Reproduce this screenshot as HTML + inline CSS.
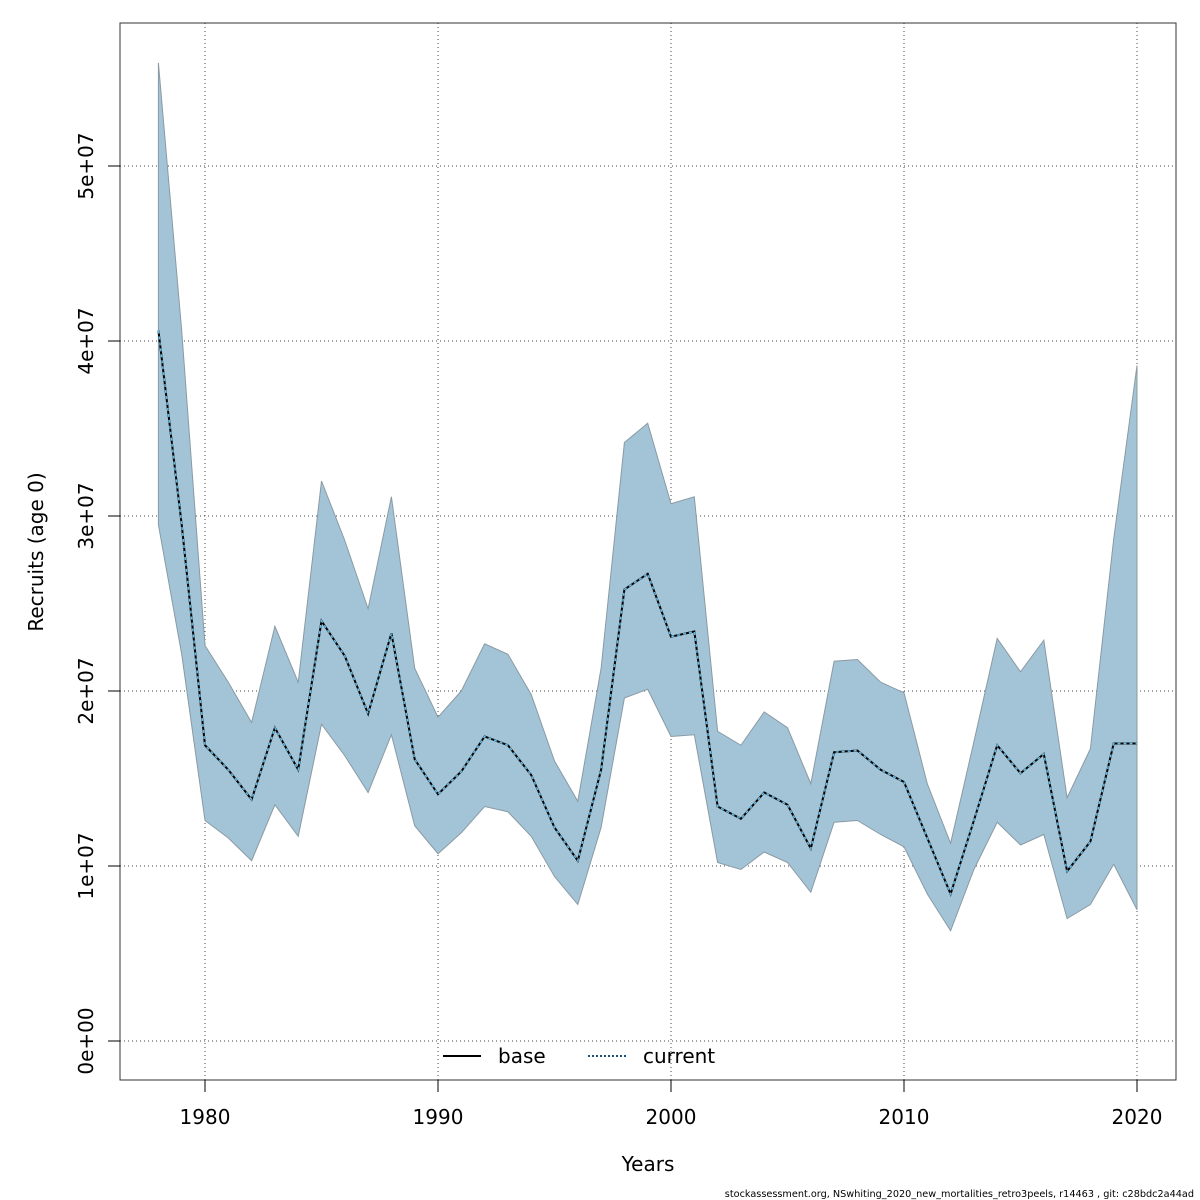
<!DOCTYPE html>
<html><head><meta charset="utf-8"><style>
body{margin:0;background:#fff}
svg{display:block;font-family:"DejaVu Sans","Liberation Sans",sans-serif}
</style></head><body>
<svg id="chart" width="1200" height="1200"></svg>
<script>
const years=[];for(let y=1978;y<=2020;y++)years.push(y);
const meanVals=[40.6,29.5,16.9,15.5,13.8,17.9,15.5,24.0,22.0,18.7,23.3,16.1,14.1,15.4,17.4,16.9,15.2,12.2,10.3,15.5,25.8,26.7,23.1,23.4,13.4,12.7,14.2,13.5,11.0,16.5,16.6,15.5,14.8,11.6,8.4,12.6,16.9,15.3,16.4,9.7,11.4,17.0,17.0];
const upperVals=[55.9,40.6,22.6,20.5,18.2,23.7,20.5,32.0,28.6,24.7,31.1,21.3,18.5,20.0,22.7,22.1,19.8,16.0,13.7,21.3,34.2,35.3,30.7,31.1,17.7,16.9,18.8,17.9,14.7,21.7,21.8,20.5,19.9,14.7,11.3,17.1,23.0,21.1,22.9,13.9,16.7,28.7,38.6];
const lowerVals=[29.5,22.1,12.6,11.6,10.3,13.5,11.7,18.1,16.3,14.2,17.5,12.3,10.7,11.9,13.4,13.1,11.7,9.4,7.8,12.2,19.6,20.1,17.4,17.5,10.2,9.8,10.8,10.2,8.5,12.5,12.6,11.8,11.1,8.4,6.3,9.8,12.5,11.2,11.8,7.0,7.8,10.1,7.5];
const xTicks=[1980,1990,2000,2010,2020];
const yTicks=[0,10,20,30,40,50];
const yTickLabels=["0e+00","1e+07","2e+07","3e+07","4e+07","5e+07"];

const svg=document.getElementById('chart');
const NS='http://www.w3.org/2000/svg';
const X=y=>205+(y-1980)*23.3;
const Y=v=>1041-v*17.5;
function mk(tag,attrs,parent){const e=document.createElementNS(NS,tag);for(const k in attrs)e.setAttribute(k,attrs[k]);(parent||svg).appendChild(e);return e;}

xTicks.forEach(t=>{const l=mk('line',{x1:X(t),x2:X(t),y1:23,y2:1080,stroke:'#444','stroke-width':1,'stroke-dasharray':'1,3'});

});
yTicks.forEach(t=>{const l=mk('line',{x1:120,x2:1176,y1:Y(t),y2:Y(t),stroke:'#444','stroke-width':1,'stroke-dasharray':'1,3'});

});

let pts=years.map((y,i)=>X(y)+','+Y(upperVals[i]));
for(let i=years.length-1;i>=0;i--)pts.push(X(years[i])+','+Y(lowerVals[i]));
const band=mk('polygon',{points:pts.join(' '),fill:'#a3c4d6',stroke:'#8a9aa4','stroke-width':1});



const lp=years.map((y,i)=>X(y)+','+Y(meanVals[i])).join(' ');
const base=mk('polyline',{points:lp,fill:'none',stroke:'#000','stroke-width':2});


const cur=mk('polyline',{points:lp,fill:'none',stroke:'#66bde8','stroke-width':1.5,'stroke-dasharray':'3,3'});



const box=mk('rect',{x:120,y:23,width:1056,height:1057,fill:'none',stroke:'#333','stroke-width':1});



xTicks.forEach(t=>{mk('line',{x1:X(t),x2:X(t),y1:1080,y2:1092,stroke:'#000'});
const tx=mk('text',{x:X(t),y:1124,'text-anchor':'middle','font-size':20});tx.textContent=t;

});
yTicks.forEach((t,i)=>{mk('line',{x1:108,x2:120,y1:Y(t),y2:Y(t),stroke:'#000'});
const tx=mk('text',{x:93,y:Y(t),'text-anchor':'middle','font-size':20,transform:`rotate(-90 93 ${Y(t)})`});tx.textContent=yTickLabels[i];

});

const xt=mk('text',{x:648,y:1171,'text-anchor':'middle','font-size':20});xt.textContent='Years';


const yt=mk('text',{x:43,y:552,'text-anchor':'middle','font-size':20,transform:'rotate(-90 43 552)'});yt.textContent='Recruits (age 0)';



const lg=mk('g',{});


mk('line',{x1:443,x2:481,y1:1056,y2:1056,stroke:'#000','stroke-width':2},lg);
const t1=mk('text',{x:498,y:1063,'font-size':20},lg);t1.textContent='base';


mk('line',{x1:588,x2:626,y1:1056,y2:1056,stroke:'#1a4f78','stroke-width':2,'stroke-dasharray':'2,2'},lg);
const t2=mk('text',{x:643,y:1063,'font-size':20},lg);t2.textContent='current';



const ft=mk('text',{x:1194,y:1197,'text-anchor':'end','font-size':9.7});ft.textContent='stockassessment.org, NSwhiting_2020_new_mortalities_retro3peels, r14463 , git: c28bdc2a44ad';


</script>
</body></html>
